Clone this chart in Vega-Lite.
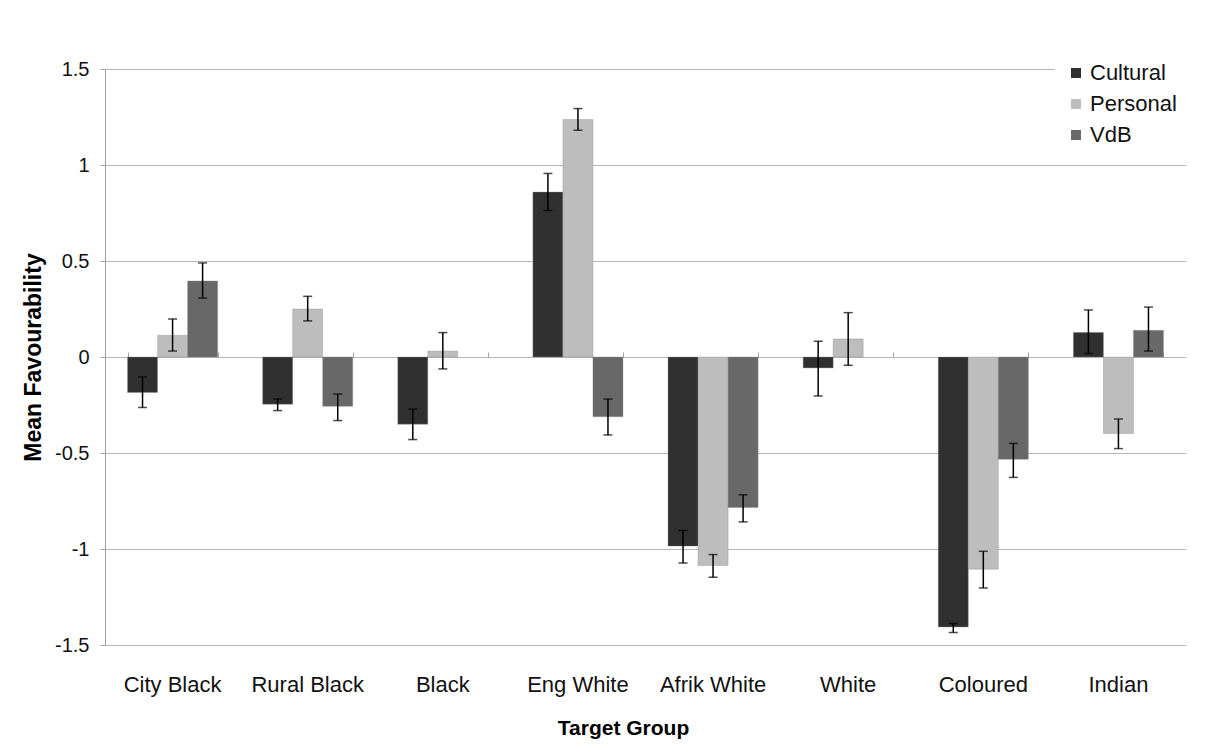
{
  "$schema": "https://vega.github.io/schema/vega-lite/v6.json",
  "width": 1081,
  "height": 576,
  "autosize": {"type": "none"},
  "padding": {"left": 105, "top": 69, "right": 32, "bottom": 101},
  "background": "white",
  "config": {"font": "Liberation Sans", "view": {"stroke": null}},
  "data": {
    "values": [
      {"group": "City Black", "series": "Cultural", "value": -0.185, "lo": -0.263, "hi": -0.104},
      {"group": "City Black", "series": "Personal", "value": 0.113, "lo": 0.031, "hi": 0.198},
      {"group": "City Black", "series": "VdB", "value": 0.396, "lo": 0.307, "hi": 0.49},
      {"group": "Rural Black", "series": "Cultural", "value": -0.246, "lo": -0.279, "hi": -0.219},
      {"group": "Rural Black", "series": "Personal", "value": 0.25, "lo": 0.188, "hi": 0.316},
      {"group": "Rural Black", "series": "VdB", "value": -0.257, "lo": -0.331, "hi": -0.193},
      {"group": "Black", "series": "Cultural", "value": -0.35, "lo": -0.43, "hi": -0.271},
      {"group": "Black", "series": "Personal", "value": 0.031, "lo": -0.062, "hi": 0.127},
      {"group": "Eng White", "series": "Cultural", "value": 0.859, "lo": 0.763, "hi": 0.956},
      {"group": "Eng White", "series": "Personal", "value": 1.237, "lo": 1.181, "hi": 1.294},
      {"group": "Eng White", "series": "VdB", "value": -0.311, "lo": -0.406, "hi": -0.219},
      {"group": "Afrik White", "series": "Cultural", "value": -0.985, "lo": -1.073, "hi": -0.903},
      {"group": "Afrik White", "series": "Personal", "value": -1.086, "lo": -1.147, "hi": -1.029},
      {"group": "Afrik White", "series": "VdB", "value": -0.784, "lo": -0.859, "hi": -0.718},
      {"group": "White", "series": "Cultural", "value": -0.057, "lo": -0.203, "hi": 0.082},
      {"group": "White", "series": "Personal", "value": 0.094, "lo": -0.043, "hi": 0.231},
      {"group": "Coloured", "series": "Cultural", "value": -1.406, "lo": -1.435, "hi": -1.388},
      {"group": "Coloured", "series": "Personal", "value": -1.105, "lo": -1.203, "hi": -1.012},
      {"group": "Coloured", "series": "VdB", "value": -0.533, "lo": -0.627, "hi": -0.45},
      {"group": "Indian", "series": "Cultural", "value": 0.128, "lo": 0.018, "hi": 0.245},
      {"group": "Indian", "series": "Personal", "value": -0.399, "lo": -0.477, "hi": -0.323},
      {"group": "Indian", "series": "VdB", "value": 0.139, "lo": 0.031, "hi": 0.26}
    ]
  },
  "layer": [
    {
      "mark": {"type": "bar", "stroke": "#8a8a8a", "strokeWidth": 0.6, "strokeOpacity": 0.6},
      "encoding": {
        "x": {
          "field": "group", "type": "nominal",
          "sort": ["City Black", "Rural Black", "Black", "Eng White", "Afrik White", "White", "Coloured", "Indian"],
          "scale": {"paddingInner": 0.3333, "paddingOuter": 0.1667},
          "axis": {"title": "Target Group", "domain": false, "ticks": false, "labelAngle": 0, "labelFontSize": 22, "labelPadding": 29, "labelColor": "#111", "titleFontSize": 21, "titleFontWeight": "bold", "titlePadding": 22, "titleColor": "#000", "titleX": 518}
        },
        "xOffset": {"field": "series", "type": "nominal", "sort": ["Cultural", "Personal", "VdB"], "scale": {"paddingInner": 0, "paddingOuter": 0}},
        "y": {
          "field": "value", "type": "quantitative", "title": "Mean Favourability",
          "scale": {"domain": [-1.5, 1.5], "nice": false},
          "axis": {"values": [-1.5, -1, -0.5, 0, 0.5, 1, 1.5], "format": ".1~f", "labelExpr": "replace(datum.label, '−', '-')", "grid": true, "gridColor": "#b5b5b5", "gridWidth": 1.2, "domainColor": "#a0a0a0", "tickColor": "#a0a0a0", "tickSize": 5, "labelFontSize": 20, "labelPadding": 11, "labelColor": "#111", "titleFontSize": 23, "titleFontWeight": "bold", "titlePadding": 9, "titleColor": "#000"}
        },
        "color": {
          "field": "series", "type": "nominal",
          "scale": {"domain": ["Cultural", "Personal", "VdB"], "range": ["#303030", "#bdbdbd", "#686868"]},
          "legend": {"title": null, "orient": "none", "legendX": 950, "legendY": -17, "symbolType": "square", "symbolSize": 100, "symbolStrokeWidth": 0, "labelFontSize": 22, "labelOffset": 3, "rowPadding": 9, "padding": 10, "fillColor": "white", "labelColor": "#111"}
        }
      }
    },
    {
      "mark": {"type": "rule", "color": "black", "strokeWidth": 1.5},
      "encoding": {
        "x": {
          "field": "group", "type": "nominal",
          "sort": ["City Black", "Rural Black", "Black", "Eng White", "Afrik White", "White", "Coloured", "Indian"],
          "axis": {"labels": false, "title": null, "domain": false, "ticks": true, "tickBand": "extent", "tickSize": 5, "tickColor": "#a0a0a0", "offset": -288}
        },
        "xOffset": {"field": "series", "type": "nominal", "sort": ["Cultural", "Personal", "VdB"]},
        "y": {"field": "lo", "type": "quantitative", "title": "Mean Favourability"},
        "y2": {"field": "hi"}
      }
    },
    {
      "mark": {"type": "tick", "color": "black", "thickness": 1.5, "size": 9, "orient": "horizontal"},
      "encoding": {
        "x": {"field": "group", "type": "nominal", "sort": ["City Black", "Rural Black", "Black", "Eng White", "Afrik White", "White", "Coloured", "Indian"], "axis": null},
        "xOffset": {"field": "series", "type": "nominal", "sort": ["Cultural", "Personal", "VdB"]},
        "y": {"field": "lo", "type": "quantitative", "title": "Mean Favourability"}
      }
    },
    {
      "mark": {"type": "tick", "color": "black", "thickness": 1.5, "size": 9, "orient": "horizontal"},
      "encoding": {
        "x": {"field": "group", "type": "nominal", "sort": ["City Black", "Rural Black", "Black", "Eng White", "Afrik White", "White", "Coloured", "Indian"], "axis": null},
        "xOffset": {"field": "series", "type": "nominal", "sort": ["Cultural", "Personal", "VdB"]},
        "y": {"field": "hi", "type": "quantitative", "title": "Mean Favourability"}
      }
    }
  ],
  "resolve": {"axis": {"x": "independent"}}
}
